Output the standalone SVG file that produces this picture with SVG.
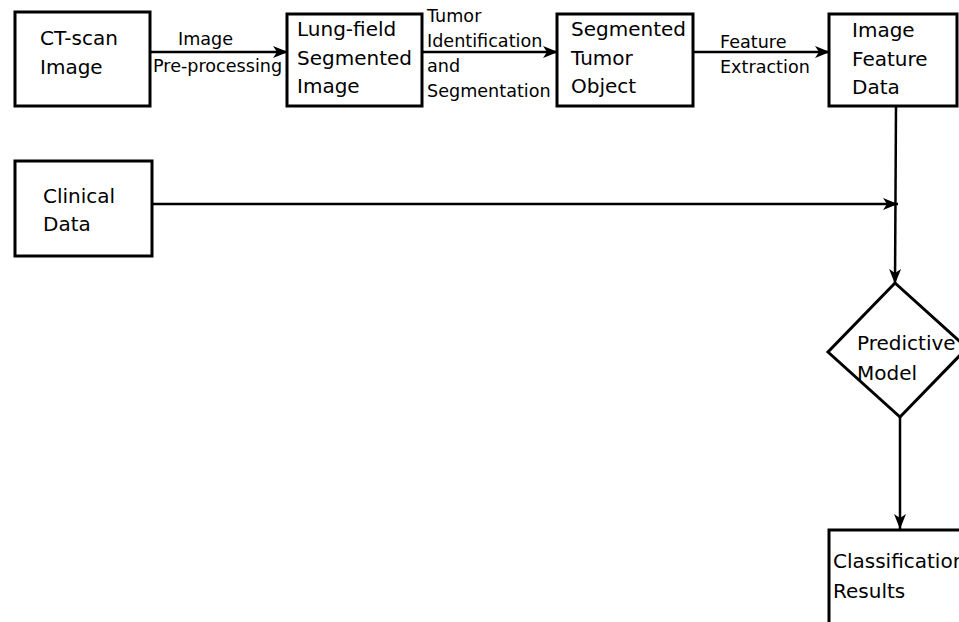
<svg xmlns="http://www.w3.org/2000/svg" width="959" height="622" viewBox="0 0 959 622">
<style>
.box{fill:#fff;stroke:#000;stroke-width:3}
.t{font-family:"DejaVu Sans",sans-serif;font-size:20px;fill:#000}
.l{font-family:"DejaVu Sans",sans-serif;font-size:17.6px;fill:#000}
.c{fill:none;stroke:#000;stroke-width:2.5}
</style>
<defs>
<marker id="ah" markerUnits="userSpaceOnUse" markerWidth="18" markerHeight="16" refX="15" refY="7" orient="auto">
<path d="M0,1 L15,7 L0,13 L4,7 Z" fill="#000"/>
</marker>
</defs>
<g id="connectors">
<line class="c" x1="150" y1="52" x2="288" y2="52" marker-end="url(#ah)"/>
<line class="c" x1="422" y1="52" x2="558" y2="52" marker-end="url(#ah)"/>
<line class="c" x1="693" y1="52" x2="830" y2="52" marker-end="url(#ah)"/>
<line class="c" x1="152" y1="204" x2="898" y2="204" marker-end="url(#ah)"/>
<line class="c" x1="896" y1="106" x2="895" y2="284" marker-end="url(#ah)"/>
<line class="c" x1="900" y1="417" x2="900" y2="529" marker-end="url(#ah)"/>
<text class="l" x="178" y="45">Image</text>
<text class="l" x="153" y="72">Pre-processing</text>
<text class="l" x="427" y="22">Tumor</text>
<text class="l" x="427" y="47">Identification</text>
<text class="l" x="427" y="72">and</text>
<text class="l" x="427" y="97">Segmentation</text>
<text class="l" x="720" y="48">Feature</text>
<text class="l" x="720" y="73">Extraction</text>
</g>
<g id="ct">
<rect class="box" x="15" y="12" width="135" height="94"/>
<text class="t" x="40" y="45">CT-scan</text>
<text class="t" x="40" y="74">Image</text>
</g>
<g id="lung">
<rect class="box" x="287" y="14" width="135" height="92"/>
<text class="t" x="297" y="36">Lung-field</text>
<text class="t" x="297" y="65">Segmented</text>
<text class="t" x="297" y="93">Image</text>
</g>
<g id="tumor">
<rect class="box" x="557" y="14" width="136" height="92"/>
<text class="t" x="571" y="36">Segmented</text>
<text class="t" x="571" y="65">Tumor</text>
<text class="t" x="571" y="93">Object</text>
</g>
<g id="feature">
<rect class="box" x="829" y="14" width="128" height="92"/>
<text class="t" x="852" y="37">Image</text>
<text class="t" x="852" y="66">Feature</text>
<text class="t" x="852" y="94">Data</text>
</g>
<g id="clinical">
<rect class="box" x="15" y="161" width="137" height="95"/>
<text class="t" x="43" y="203">Clinical</text>
<text class="t" x="43" y="231">Data</text>
</g>
<g id="model">
<polygon class="box" points="895,283 967,348 900,417 828,352"/>
<text class="t" x="857" y="350">Predictive</text>
<text class="t" x="857" y="380">Model</text>
</g>
<g id="results">
<rect class="box" x="829" y="530" width="140" height="110"/>
<text class="t" x="833" y="568">Classification</text>
<text class="t" x="833" y="598">Results</text>
</g>
</svg>
